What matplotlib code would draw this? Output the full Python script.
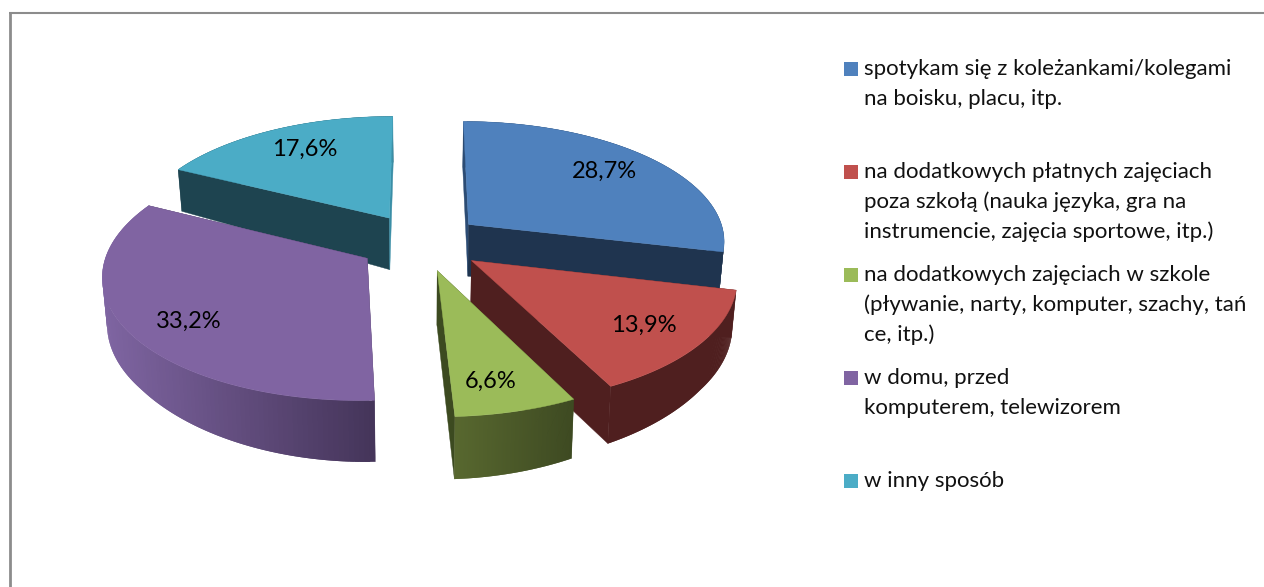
import numpy as np
import matplotlib
matplotlib.use("Agg")
import matplotlib.pyplot as plt
from matplotlib.patches import Polygon, Rectangle
from matplotlib.colors import to_rgb

plt.rcParams['font.family'] = ['Lato', 'DejaVu Sans']

#dane
values = [28.7, 13.9, 6.6, 33.2, 17.6]
legend_lines = [
    ["spotykam się z koleżankami/kolegami", "na boisku, placu, itp."],
    ["na dodatkowych płatnych zajęciach", "poza szkołą (nauka języka, gra na", "instrumencie, zajęcia sportowe, itp.)"],
    ["na dodatkowych zajęciach w szkole", "(pływanie, narty, komputer, szachy, tań", "ce, itp.)"],
    ["w domu, przed", "komputerem, telewizorem"],
    ["w inny sposób"],
]

#kolory
top_colors = ['#4f81bd', '#c0504d', '#9bbb59', '#8064a2', '#4bacc6']
face_start = ['#2c4c74', '#4f1f1f', '#3c4a20', '#45355a', '#1e4450']
face_end = ['#1f344f', '#4f1f1f', '#3c4a20', '#45355a', '#3a8ea6']
wall_left = ['#1f344f', '#4f1f1f', '#58682f', '#7f65a2', '#1e4450']
wall_right = ['#1f344f', '#4f1f1f', '#3e4a22', '#45355a', '#1e4450']

#geometria rzutu (piksele obrazka)
cx, cy = 421, 242
rx, ry = 257.5, 120
persp = 0.125
explode = [0.24, 0.245, 0.24, 0.245, 0.24]
depth = 53
shrink = 0.985
label_pos = [(604, 178), (644, 332), (490.5, 388), (189, 328), (305, 156)]
legend_base = [75, 178, 281, 384, 487]

def project(U, V, low=False):
    w = 1 - persp * V
    x = rx * U / w
    y = ry * V / w
    if low:
        #na bokach kolo jest nizsze, z przodu wyzsze
        h = depth * (1 - 0.15 * min(U * U, 1)) / w
        return cx + x * shrink, cy + y + h
    return cx + x, cy + y

fig = plt.figure(figsize=(12.64, 5.87), dpi=100)
ax = fig.add_axes([0, 0, 1, 1])
ax.set_xlim(0, 1264)
ax.set_ylim(587, 0)
ax.axis('off')

#ramka
ax.plot([10.3, 10.3], [587, 13.3], color='#8c8c8c', lw=2.0, solid_capstyle='butt')
ax.plot([9.3, 1264], [13.3, 13.3], color='#8c8c8c', lw=1.5, solid_capstyle='butt')

edges = np.cumsum([0] + values) / sum(values) * 2 * np.pi
draw_order = [4, 0, 3, 1, 2]

for i in draw_order:
    t0, t1 = edges[i], edges[i + 1]
    mid = (t0 + t1) / 2
    U0 = explode[i] * np.sin(mid)
    V0 = -explode[i] * np.cos(mid)
    ts = np.linspace(t0, t1, 121)
    Us = U0 + np.sin(ts)
    Vs = V0 - np.cos(ts)

    apex = project(U0, V0)
    apex_low = project(U0, V0, True)

    def draw_faces():
        for k, col in ((0, face_start[i]), (-1, face_end[i])):
            face = [apex, project(Us[k], Vs[k]), project(Us[k], Vs[k], True), apex_low]
            ax.add_patch(Polygon(face, closed=True, fc=col, ec=col, lw=0.3))

    def draw_wall():
        left = np.array(to_rgb(wall_left[i]))
        right = np.array(to_rgb(wall_right[i]))
        xs = [project(u, v)[0] for u, v in zip(Us, Vs)]
        for j in range(len(ts) - 1):
            f = (xs[j] - min(xs)) / (max(xs) - min(xs))
            col = left + (right - left) * f
            #paski zachodza na siebie, zeby nie bylo szwow
            j2 = min(j + 2, len(ts) - 1)
            quad = [project(Us[j], Vs[j]), project(Us[j2], Vs[j2]),
                    project(Us[j2], Vs[j2], True), project(Us[j], Vs[j], True)]
            ax.add_patch(Polygon(quad, closed=True, fc=col, ec='none'))

    #tylne kawalki: najpierw sciana zewnetrzna, przednie odwrotnie
    if V0 < 0:
        draw_wall()
        draw_faces()
    else:
        draw_faces()
        draw_wall()

    #wierzch
    top = [apex] + [project(u, v) for u, v in zip(Us, Vs)]
    ax.add_patch(Polygon(top, closed=True, fc=top_colors[i], ec=top_colors[i], lw=0.3))

for v, (x, y) in zip(values, label_pos):
    ax.text(x, y, f"{v:.1f}%".replace('.', ','), ha='center', va='baseline', fontsize=17, color='black')

#legenda
for i, lines in enumerate(legend_lines):
    y = legend_base[i]
    ax.add_patch(Rectangle((844, y - 13), 14, 14, fc=top_colors[i], ec='none'))
    for n, line in enumerate(lines):
        ax.text(864, y + n * 30, line, ha='left', va='baseline', fontsize=16, color='#111111')

fig.savefig('out.png', dpi=100)
